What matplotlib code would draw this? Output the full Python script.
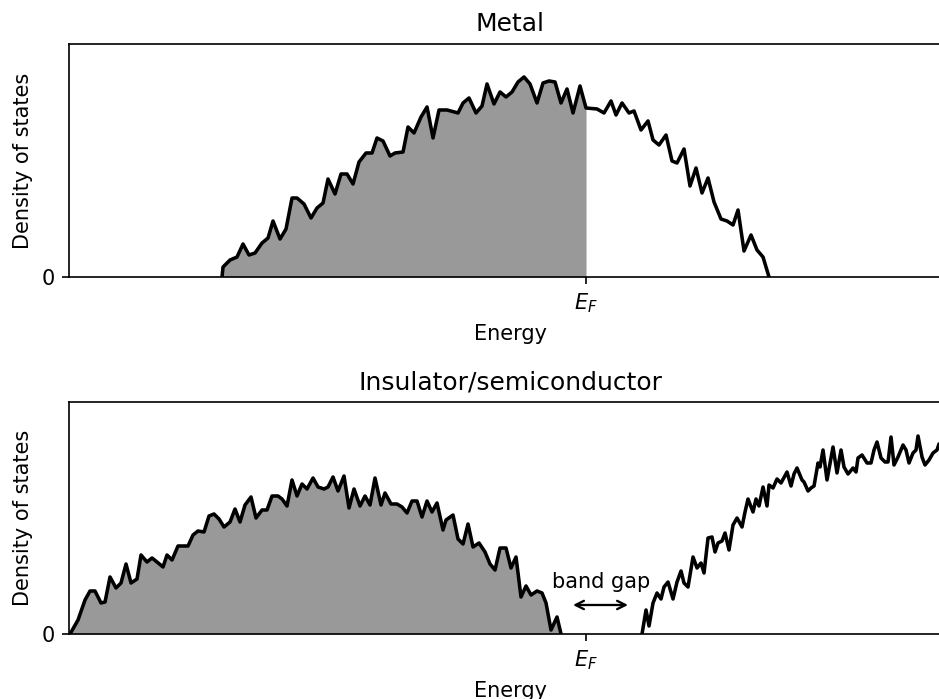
import numpy as np
import matplotlib.pyplot as plt

# density of states for a metal (energy relative to E_F)
metal_E = [-5.17, -3.64, -3.63, -3.56, -3.49, -3.43, -3.37, -3.31, -3.24, -3.18, -3.13,
           -3.06, -3.00, -2.94, -2.89, -2.82, -2.75, -2.69, -2.63, -2.58, -2.51, -2.45,
           -2.39, -2.33, -2.27, -2.20, -2.14, -2.09, -2.03, -1.96, -1.91, -1.83, -1.78,
           -1.72, -1.65, -1.59, -1.53, -1.47, -1.39, -1.28, -1.23, -1.17, -1.10, -1.04,
           -0.99, -0.92, -0.86, -0.80, -0.74, -0.68, -0.62, -0.56, -0.49, -0.43, -0.37,
           -0.31, -0.25, -0.19, -0.13, -0.06, 0.00, 0.11, 0.18, 0.25, 0.30, 0.36, 0.43,
           0.48, 0.55, 0.62, 0.67, 0.73, 0.80, 0.86, 0.91, 0.98, 1.04, 1.10, 1.16, 1.22,
           1.28, 1.35, 1.41, 1.47, 1.52, 1.58, 1.65, 1.71, 1.77, 1.83, 3.70]
metal_dos = [0, 0, 0.10, 0.17, 0.20, 0.33, 0.22, 0.24, 0.34, 0.39, 0.56,
             0.38, 0.48, 0.79, 0.79, 0.73, 0.59, 0.69, 0.74, 0.98, 0.83, 1.03,
             1.03, 0.93, 1.15, 1.24, 1.24, 1.39, 1.36, 1.21, 1.24, 1.25, 1.50,
             1.44, 1.60, 1.70, 1.39, 1.67, 1.67, 1.64, 1.74, 1.79, 1.64, 1.71,
             1.93, 1.73, 1.85, 1.80, 1.85, 1.95, 2.00, 1.93, 1.74, 1.94, 1.96,
             1.95, 1.74, 1.88, 1.64, 1.91, 1.69, 1.68, 1.64, 1.76, 1.62, 1.74, 1.64,
             1.66, 1.47, 1.56, 1.37, 1.32, 1.42, 1.16, 1.14, 1.28, 0.91, 1.09, 0.84, 0.99,
             0.75, 0.58, 0.56, 0.52, 0.67, 0.26, 0.42, 0.27, 0.20, 0, 0]

# density of states for an insulator / semiconductor
ins_E = [-5.16, -5.08, -5.01, -4.96, -4.91, -4.85, -4.81, -4.76, -4.70, -4.65, -4.60,
         -4.55, -4.49, -4.45, -4.39, -4.34, -4.29, -4.23, -4.19, -4.14, -4.08, -3.98,
         -3.93, -3.88, -3.82, -3.77, -3.72, -3.67, -3.62, -3.56, -3.51, -3.46, -3.41,
         -3.35, -3.30, -3.24, -3.19, -3.14, -3.08, -3.04, -2.99, -2.94, -2.89, -2.84,
         -2.79, -2.73, -2.68, -2.62, -2.58, -2.53, -2.48, -2.42, -2.37, -2.32, -2.26,
         -2.21, -2.16, -2.11, -2.05, -2.01, -1.95, -1.89, -1.84, -1.79, -1.74, -1.69,
         -1.64, -1.59, -1.54, -1.49, -1.43, -1.40, -1.33, -1.28, -1.23, -1.18, -1.13,
         -1.07, -1.01, -0.96, -0.91, -0.86, -0.80, -0.75, -0.70, -0.65, -0.60, -0.55,
         -0.49, -0.44, -0.40, -0.35, -0.29, -0.25, -0.19, 0.44, 0.56, 0.60, 0.63, 0.67,
         0.71, 0.75, 0.78, 0.82, 0.87, 0.91, 0.95, 0.98, 1.02, 1.07, 1.11, 1.15, 1.18,
         1.22, 1.26, 1.29, 1.32, 1.36, 1.39, 1.43, 1.47, 1.51, 1.56, 1.59, 1.62, 1.67,
         1.70, 1.73, 1.77, 1.81, 1.83, 1.87, 1.91, 1.95, 2.01, 2.05, 2.08, 2.11, 2.16,
         2.18, 2.22, 2.25, 2.28, 2.32, 2.34, 2.37, 2.41, 2.47, 2.51, 2.55, 2.58, 2.62,
         2.67, 2.70, 2.72, 2.76, 2.81, 2.85, 2.88, 2.91, 2.95, 2.99, 3.02, 3.05, 3.08,
         3.12, 3.17, 3.20, 3.23, 3.27, 3.30, 3.32, 3.36, 3.39, 3.43, 3.47, 3.51, 3.53,
         3.57, 3.61, 3.66]
ins_dos = [0, 0.14, 0.34, 0.43, 0.43, 0.31, 0.32, 0.57, 0.46, 0.51, 0.70,
           0.51, 0.55, 0.79, 0.72, 0.76, 0.72, 0.67, 0.79, 0.74, 0.88, 0.88,
           0.99, 1.03, 1.02, 1.18, 1.20, 1.15, 1.07, 1.12, 1.25, 1.12, 1.29,
           1.37, 1.16, 1.24, 1.24, 1.38, 1.38, 1.35, 1.28, 1.54, 1.38, 1.50,
           1.45, 1.56, 1.47, 1.45, 1.47, 1.57, 1.43, 1.58, 1.26, 1.45, 1.28,
           1.38, 1.29, 1.56, 1.29, 1.41, 1.30, 1.30, 1.27, 1.21, 1.33, 1.33,
           1.17, 1.33, 1.22, 1.31, 1.04, 1.14, 1.19, 0.95, 0.90, 1.10, 0.87,
           0.91, 0.82, 0.70, 0.64, 0.86, 0.86, 0.66, 0.77, 0.37, 0.48, 0.39,
           0.43, 0.41, 0.31, 0.04, 0.17, 0, 0, 0, 0, 0.24, 0.08, 0.31,
           0.41, 0.35, 0.47, 0.52, 0.35, 0.52, 0.63, 0.51, 0.47, 0.77, 0.66, 0.71, 0.61,
           0.96, 0.97, 0.82, 0.91, 0.93, 1.01, 0.84, 1.09, 1.16, 1.07, 1.22, 1.35, 1.22,
           1.35, 1.28, 1.47, 1.28, 1.49, 1.46, 1.55, 1.51, 1.62, 1.48, 1.60, 1.66, 1.54,
           1.52, 1.43, 1.46, 1.48, 1.71, 1.67, 1.84, 1.54, 1.87, 1.61, 1.84, 1.67, 1.60,
           1.66, 1.62, 1.76, 1.79, 1.71, 1.71, 1.84, 1.92, 1.76, 1.72, 1.72, 1.97, 1.69,
           1.77, 1.89, 1.84, 1.71, 1.81, 1.84, 1.98, 1.77, 1.69, 1.74, 1.81, 1.84, 1.90,
           1.80, 1.92, 1.85]

E_F = 0.0
xmin, xmax = -5.17, 3.65
gray = '#999999'

fig = plt.figure(figsize=(6.26, 4.66), dpi=150)
ax1 = fig.add_axes([0.0735, 0.6037, 0.9393, 0.3334])
ax2 = fig.add_axes([0.0735, 0.0930, 0.9393, 0.3319])


def dos_panel(ax, E, dos, title, ytop):
    E = np.array(E)
    dos = np.array(dos, dtype=float)
    occ = E <= E_F
    ax.fill_between(E[occ], dos[occ], color=gray, lw=0)
    # skip runs of zeros so the curve doesn't double up the bottom spine
    line = dos.copy()
    zero = dos == 0
    left = np.r_[True, zero[:-1]]
    right = np.r_[zero[1:], True]
    line[zero & left & right] = np.nan
    ax.plot(E, line, color='k', lw=1.7)
    ax.set_xlim(xmin, xmax)
    ax.set_ylim(0, ytop)
    ax.set_xticks([E_F])
    ax.set_xticklabels(['$E_F$'])
    ax.set_yticks([0])
    ax.set_xlabel('Energy')
    ax.set_ylabel('Density of states')
    ax.set_title(title)
    ax.spines['right'].set_visible(False)


dos_panel(ax1, metal_E, metal_dos, 'Metal', 2.33)
dos_panel(ax2, ins_E, ins_dos, 'Insulator/semiconductor', 2.32)

# mark the gap between valence and conduction bands
ax2.annotate('', xy=(0.42, 0.29), xytext=(-0.13, 0.29),
             arrowprops=dict(arrowstyle='<->', color='k', lw=1.1,
                             shrinkA=0, shrinkB=0))
ax2.text(0.15, 0.52, 'band gap', ha='center', va='center')

fig.savefig('out.png', dpi=150)
